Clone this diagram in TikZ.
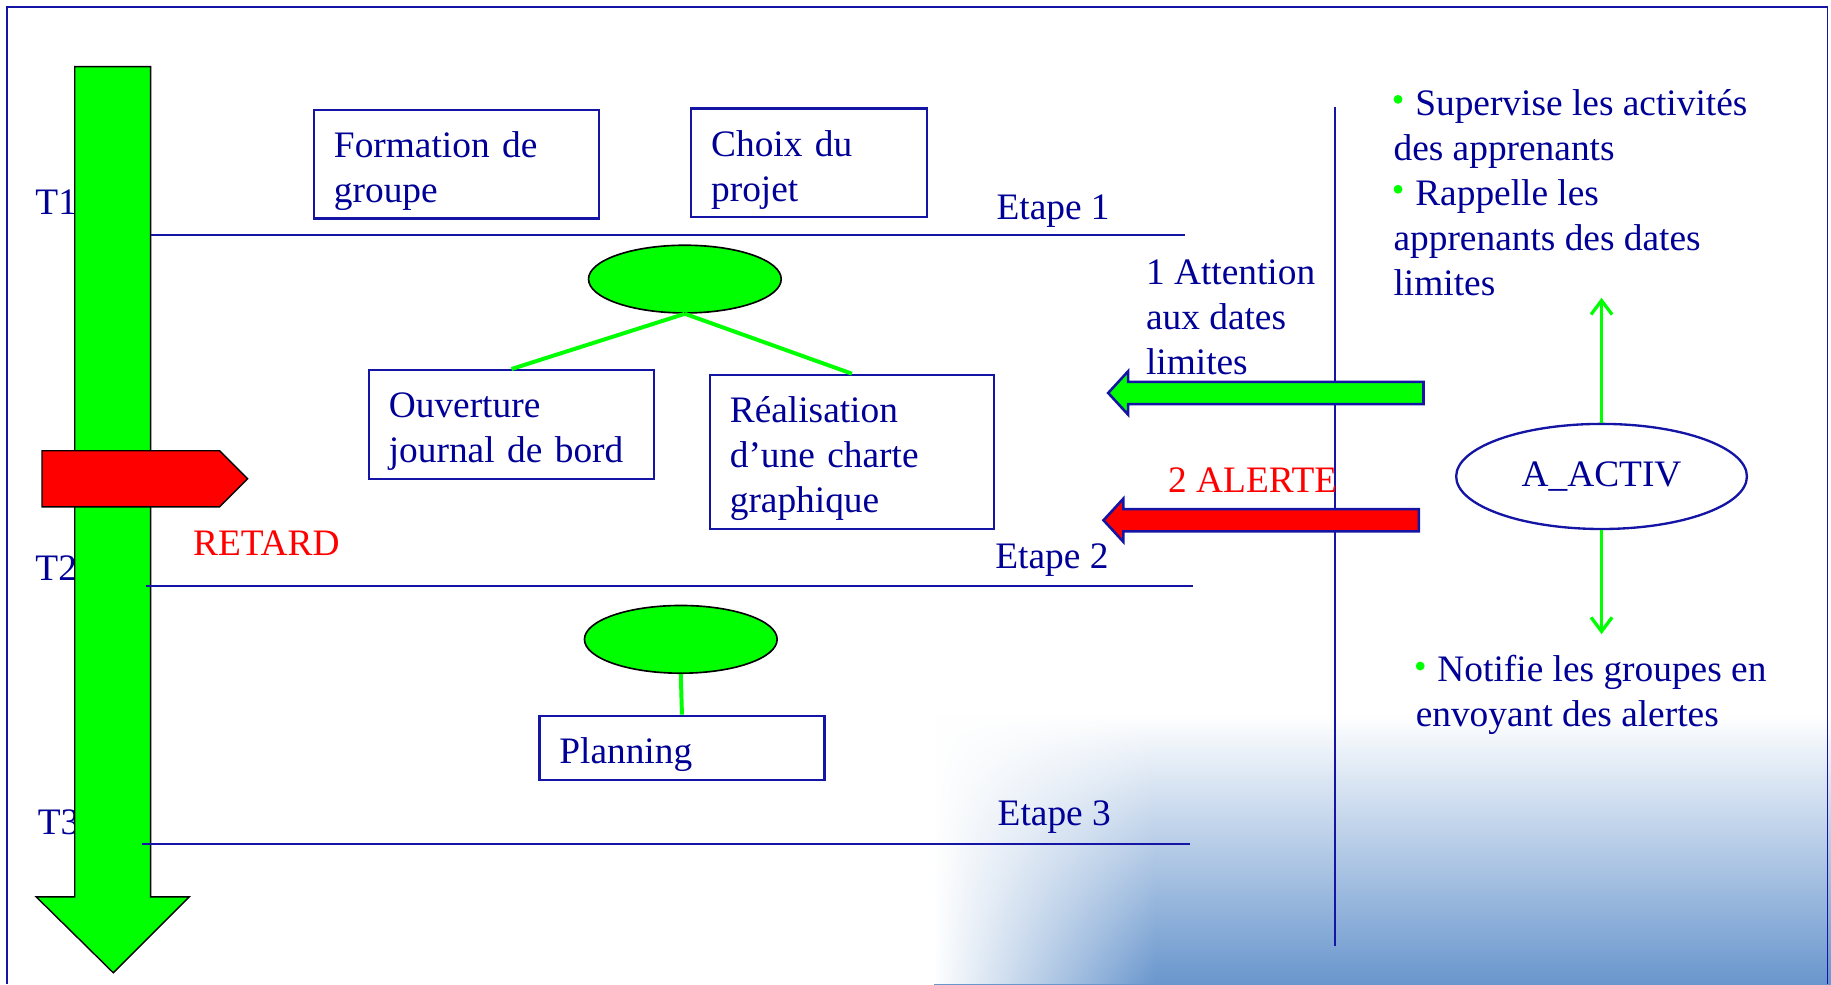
\documentclass[tikz,border=0pt]{standalone}
\usepackage{fontspec}
\setmainfont{Liberation Serif}
\usepackage{xcolor}
\usepackage{tikz}
\usetikzlibrary{shapes.geometric, arrows.meta, positioning, fadings}
\definecolor{ppnavy}{RGB}{0,0,150}
\definecolor{ppline}{RGB}{20,20,165}
\definecolor{ppgreen}{RGB}{0,255,0}
\definecolor{ppred}{RGB}{255,0,0}
\definecolor{ppshade}{RGB}{105,150,205}
\tikzfading[name=fadeoutright, left color=transparent!0, right color=transparent!100]
\newcommand{\puce}{\tikz[baseline=-6.8pt]\fill[ppgreen] (0,0) circle (1.9pt);\hspace{5.5pt}}
\tikzset{
  stagebox/.style={rectangle, draw=ppline, fill=white, line width=1pt,
    align=left, inner xsep=8.5pt, inner ysep=0pt, text=ppnavy,
    execute at begin node={\rule{0pt}{17pt}}},
  greenoval/.style={ellipse, draw=black, fill=ppgreen, line width=0.7pt,
    minimum width=82.5pt, minimum height=29pt, inner sep=0pt},
  link/.style={draw=ppgreen, line width=1.7pt},
  lbl/.style={inner sep=0pt, text=ppnavy},
  sepline/.style={draw=ppline, line width=0.8pt}
}

\begin{document}
\begin{tikzpicture}[x=0.5pt, y=-0.5pt, font=\fontsize{16}{19.25}\selectfont]
        \useasboundingbox (0,0) rectangle (1568,843);
        \shade[top color=white, bottom color=ppshade] (800,612) rectangle (1568,843);
        \fill[white, path fading=fadeoutright] (800,612) rectangle (990,843);
        \draw[ppline, line width=0.8pt] (6,843) -- (6,6) -- (1565,6) -- (1565,843);

        \node[lbl, anchor=base west] (tA) at (30,184) {T1};
        \node[lbl, anchor=base west] (tB) at (30,497) {T2};
        \node[lbl, anchor=base west] (tC) at (32,715) {T3};

        \filldraw[fill=ppgreen, draw=black, line width=0.6pt]
          (64,57) -- (129,57) -- (129,768) -- (162,768) -- (97,833) -- (31,768) -- (64,768) -- cycle;
        \filldraw[fill=ppred, draw=black, line width=0.6pt]
          (36,386) -- (188,386) -- (212,410) -- (188,434) -- (36,434) -- cycle;
        \node[lbl, text=ppred, anchor=base west] (retard) at (165,476) {RETARD};

        \draw[sepline] (129,201) -- (1015,201);
        \draw[sepline] (125,502) -- (1022,502);
        \draw[sepline] (122,723) -- (1019,723);
        \node[lbl, anchor=base west] (etapeA) at (853,188) {Etape 1};
        \node[lbl, anchor=base west] (etapeB) at (852,487) {Etape 2};
        \node[lbl, anchor=base west] (etapeC) at (854,707) {Etape 3};

        \node[stagebox, text width=105pt, minimum height=46.5pt] (formation) at (391,140.5) {Formation de\\groupe};
        \node[stagebox, text width=84pt, minimum height=46.5pt] (choix) at (693,139.5) {Choix du\\projet};
        \node[stagebox, text width=105pt, minimum height=46.5pt] (ouverture) at (438,363.5) {Ouverture\\journal de bord};
        \node[stagebox, text width=104.5pt, minimum height=66pt] (charte) at (729.5,387) {Réalisation\\d’une charte\\graphique};
        \node[stagebox, text width=105pt, minimum height=27.5pt] (planning) at (584,640.5) {Planning};

        \node[greenoval] (ovalA) at (586.5,239) {};
        \node[greenoval] (ovalB) at (583,547.5) {};
        \draw[link] (ovalA.south) -- (ouverture.north);
        \draw[link] (ovalA.south) -- (charte.north);
        \draw[link] (ovalB.south) -- (planning.north);

        \draw[ppline, line width=0.9pt] (1143,92) -- (1143,810);

        \filldraw[fill=ppgreen, draw=ppline, line width=1.1pt]
          (1219,327) -- (966,327) -- (966,318) -- (949,336.5) -- (966,355) -- (966,346) -- (1219,346) -- cycle;
        \filldraw[fill=ppred, draw=ppline, line width=1.1pt]
          (1215,436) -- (962,436) -- (962,427) -- (945,445.5) -- (962,464) -- (962,455) -- (1215,455) -- cycle;
        \node[lbl, anchor=north west, align=left] (attention) at (981,222) {1 Attention\\aux dates\\limites};
        \node[lbl, text=ppred, anchor=base west] (alerte) at (1000,422) {2 ALERTE};

        \node[ellipse, draw=ppline, line width=1pt, minimum width=124.5pt, minimum height=45pt,
              inner sep=0pt, text=ppnavy] (activ) at (1371.5,408) {A\_ACTIV};
        \coordinate (supTip) at (1371.5,255);
        \coordinate (notTip) at (1371.5,543);
        \draw[ppgreen, line width=1.4pt, -{Straight Barb[length=6pt, width=9pt]}] (activ.north) -- (supTip);
        \draw[ppgreen, line width=1.4pt, -{Straight Barb[length=6pt, width=9pt]}] (activ.south) -- (notTip);

        \node[lbl, anchor=north west, align=left] (supervise) at (1193,76)
          {\puce Supervise les activités\\des apprenants\\\puce Rappelle les\\apprenants des dates\\limites};
        \node[lbl, anchor=north west, align=left] (notifie) at (1212,561)
          {\puce Notifie les groupes en\\envoyant des alertes};
      \end{tikzpicture}
\end{document}
